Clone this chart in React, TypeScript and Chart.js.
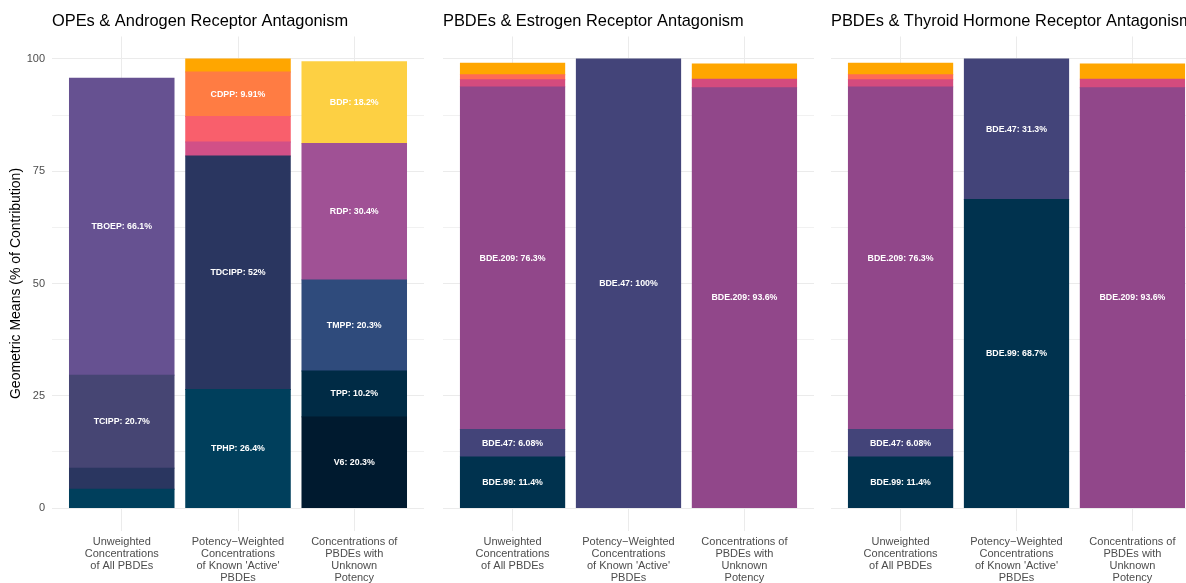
import { useEffect, useRef } from "react";
import { Chart, registerables } from "chart.js";

Chart.register(...registerables);

const FONT = '"Liberation Sans", Arial, Helvetica, sans-serif';

// ---------- shared axis data ----------
const categories: string[][] = [
  ["Unweighted", "Concentrations", "of All PBDEs"],
  ["Potency\u2212Weighted", "Concentrations", "of Known 'Active'", "PBDEs"],
  ["Concentrations of", "PBDEs with", "Unknown", "Potency"],
];
const categoryPositions = [1, 2, 3];
const yTicks = [0, 12.5, 25, 37.5, 50, 62.5, 75, 87.5, 100];
const yTickLabels = ["0", "", "25", "", "50", "", "75", "", "100"];
const yAxisTitle = "Geometric Means (% of Contribution)";

// ---------- panel 1: OPEs ----------
const opeTitle = "OPEs & Androgen Receptor Antagonism";
const opeV6 = [null, null, 20.3];
const opeTPP = [null, null, 10.2];
const opeTPHP = [4.2, 26.4, null];
const opeTDCIPP = [4.7, 52, null];
const opeTMPP = [null, null, 20.3];
const opeTCIPP = [20.7, null, null];
const opeTBOEP = [66.1, null, null];
const opeRDP = [null, null, 30.4];
const opeEHDPP = [null, 3.1, null];
const opeTEHP = [null, 5.7, null];
const opeCDPP = [null, 9.91, null];
const opeTNBP = [null, 2.9, null];
const opeBDP = [null, null, 18.2];

// ---------- panel 2: PBDEs & ER ----------
const erTitle = "PBDEs & Estrogen Receptor Antagonism";
const erBDE99 = [11.4, null, null];
const erBDE47 = [6.08, 100, null];
const erBDE209 = [76.3, null, 93.6];
const erBDE100 = [1.6, null, 1.9];
const erBDE153 = [1.1, null, null];
const erBDE154 = [2.6, null, 3.4];

// ---------- panel 3: PBDEs & TR ----------
const trTitle = "PBDEs & Thyroid Hormone Receptor Antagonism";
const trBDE99 = [11.4, 68.7, null];
const trBDE47 = [6.08, 31.3, null];
const trBDE209 = [76.3, null, 93.6];
const trBDE100 = [1.6, null, 1.9];
const trBDE153 = [1.1, null, null];
const trBDE154 = [2.6, null, 3.4];

const LABEL_MIN = 6;

type Series = { name: string; values: (number | null)[]; color: string };

const opeSeries: Series[] = [
  { name: "V6", values: opeV6, color: "#001a2f" },
  { name: "TPP", values: opeTPP, color: "#002b45" },
  { name: "TPHP", values: opeTPHP, color: "#003f5c" },
  { name: "TDCIPP", values: opeTDCIPP, color: "#2a3660" },
  { name: "TMPP", values: opeTMPP, color: "#2f4b7c" },
  { name: "TCIPP", values: opeTCIPP, color: "#464573" },
  { name: "TBOEP", values: opeTBOEP, color: "#665191" },
  { name: "RDP", values: opeRDP, color: "#a05195" },
  { name: "EHDPP", values: opeEHDPP, color: "#d15087" },
  { name: "TEHP", values: opeTEHP, color: "#f95f6c" },
  { name: "CDPP", values: opeCDPP, color: "#ff7c43" },
  { name: "TNBP", values: opeTNBP, color: "#ffa600" },
  { name: "BDP", values: opeBDP, color: "#fdd043" },
];

const erSeries: Series[] = [
  { name: "BDE.99", values: erBDE99, color: "#00324e" },
  { name: "BDE.47", values: erBDE47, color: "#434479" },
  { name: "BDE.209", values: erBDE209, color: "#91478a" },
  { name: "BDE.100", values: erBDE100, color: "#d44b7e" },
  { name: "BDE.153", values: erBDE153, color: "#ff6a55" },
  { name: "BDE.154", values: erBDE154, color: "#ffa600" },
];

const trSeries: Series[] = [
  { name: "BDE.99", values: trBDE99, color: "#00324e" },
  { name: "BDE.47", values: trBDE47, color: "#434479" },
  { name: "BDE.209", values: trBDE209, color: "#91478a" },
  { name: "BDE.100", values: trBDE100, color: "#d44b7e" },
  { name: "BDE.153", values: trBDE153, color: "#ff6a55" },
  { name: "BDE.154", values: trBDE154, color: "#ffa600" },
];

const panelTitlePlugin = {
  id: "panelTitle",
  afterDraw(chart: any, _args: any, opts: any) {
    const ctx = chart.ctx;
    ctx.save();
    ctx.font = `16.4px ${FONT}`;
    ctx.fillStyle = "#000000";
    ctx.textAlign = "left";
    ctx.textBaseline = "alphabetic";
    ctx.fillText(opts.text, chart.chartArea.left, 26);
    ctx.restore();
  },
};

const segmentLabelPlugin = {
  id: "segmentLabels",
  afterDatasetsDraw(chart: any) {
    const ctx = chart.ctx;
    ctx.save();
    ctx.font = `bold 8.8px ${FONT}`;
    ctx.fillStyle = "#ffffff";
    ctx.textAlign = "center";
    ctx.textBaseline = "middle";
    chart.data.datasets.forEach((ds: any, di: number) => {
      const meta = chart.getDatasetMeta(di);
      ds.data.forEach((pt: any, i: number) => {
        if (pt.y == null || pt.y <= LABEL_MIN) return;
        const el = meta.data[i];
        if (!el) return;
        const { x, y, base } = el.getProps(["x", "y", "base"], true);
        ctx.fillText(`${ds.label}: ${pt.y}%`, x, (y + base) / 2);
      });
    });
    ctx.restore();
  },
};

type PanelProps = {
  title: string;
  series: Series[];
  showY: boolean;
  left: number;
  width: number;
  padLeft: number;
  padRight: number;
};

function Panel(props: PanelProps) {
  const ref = useRef<HTMLCanvasElement | null>(null);
  useEffect(() => {
    if (!ref.current) return;
    const { title, series, showY, padLeft, padRight } = props;
    const chart = new Chart(ref.current, {
      type: "bar",
      data: {
        datasets: series.map((s) => ({
          label: s.name,
          data: s.values.map((v, i) => ({ x: categoryPositions[i], y: v })),
          backgroundColor: s.color,
          borderWidth: 0,
          inflateAmount: 0.45,
          stack: "s",
          categoryPercentage: 0.9,
          barPercentage: 1,
        })),
      },
      options: {
        responsive: false,
        animation: false,
        devicePixelRatio: 1,
        layout: { padding: { top: 36.5, bottom: 0, left: padLeft, right: padRight } },
        plugins: {
          legend: { display: false },
          tooltip: { enabled: false },
          panelTitle: { text: title },
        } as any,
        scales: {
          x: {
            type: "linear",
            min: 0.4,
            max: 3.6,
            offset: false,
            grid: { offset: false, drawTicks: false, color: "#ebebeb", lineWidth: 1 },
            border: { display: false },
            afterBuildTicks: (s: any) => {
              s.ticks = categoryPositions.map((v) => ({ value: v }));
            },
            afterFit: (s: any) => {
              s.height = 52.5;
            },
            ticks: {
              autoSkip: false,
              maxRotation: 0,
              minRotation: 0,
              padding: 5,
              color: "#4d4d4d",
              font: { family: FONT, size: 11, lineHeight: 1.1 },
              callback: (v: any) => categories[categoryPositions.indexOf(Math.round(Number(v)))],
            },
          },
          y: {
            type: "linear",
            stacked: true,
            min: -5,
            max: 105,
            grid: {
              drawTicks: false,
              lineWidth: 1,
              color: (c: any) =>
                c.tick && c.tick.value % 25 === 0 ? "#ebebeb" : "#f1f1f1",
            },
            border: { display: false },
            afterBuildTicks: (s: any) => {
              s.ticks = yTicks.map((v) => ({ value: v }));
            },
            afterFit: (s: any) => {
              s.width = showY ? 52 : 0;
            },
            ticks: {
              display: showY,
              padding: 7,
              color: "#4d4d4d",
              font: { family: FONT, size: 11 },
              callback: (v: any) => yTickLabels[yTicks.indexOf(Number(v))],
            },
            title: {
              display: showY,
              text: yAxisTitle,
              color: "#000000",
              font: { family: FONT, size: 14 },
              padding: { top: 7.5, bottom: 0 },
            },
          },
        } as any,
      },
      plugins: [panelTitlePlugin, segmentLabelPlugin],
    } as any);
    return () => chart.destroy();
  }, []);
  return (
    <canvas
      ref={ref}
      width={props.width}
      height={583}
      style={{
        position: "absolute",
        left: props.left,
        top: 0,
        width: props.width,
        height: 583,
      }}
    />
  );
}

export default function App() {
  return (
    <div
      style={{
        position: "fixed",
        left: 0,
        top: 0,
        width: 1186,
        height: 583,
        overflow: "hidden",
        background: "#ffffff",
      }}
    >
      <Panel title={opeTitle} series={opeSeries} showY={true} left={0} width={434} padLeft={0} padRight={10} />
      <Panel title={erTitle} series={erSeries} showY={false} left={433} width={391} padLeft={10} padRight={10} />
      <Panel title={trTitle} series={trSeries} showY={false} left={821} width={401} padLeft={10} padRight={20} />
    </div>
  );
}
